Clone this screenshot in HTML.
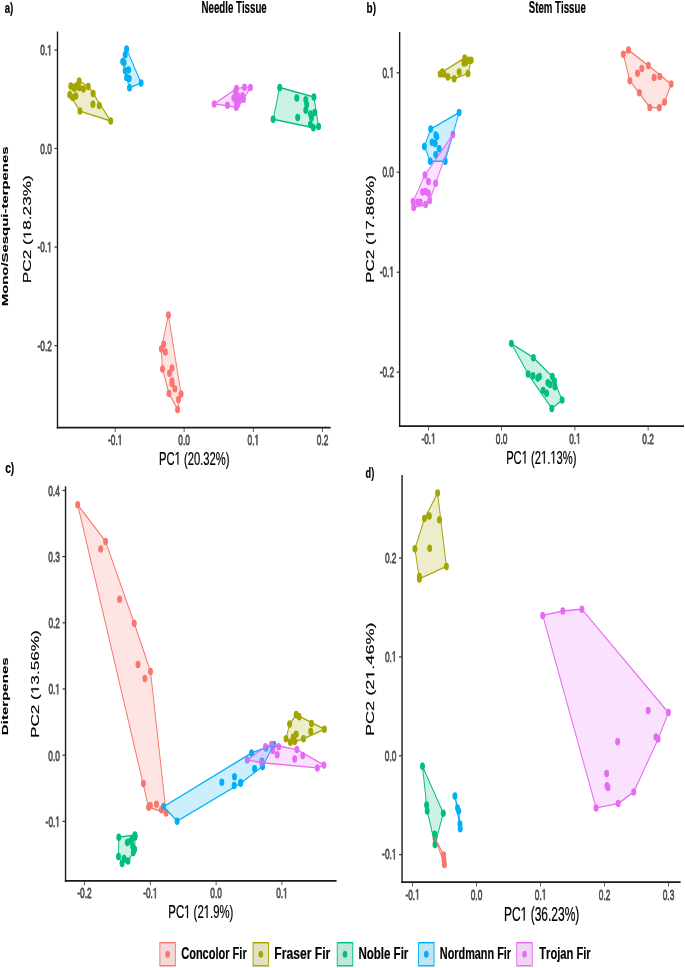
<!DOCTYPE html>
<html><head><meta charset="utf-8"><style>
html,body{margin:0;padding:0;background:#fff;}
svg{display:block;will-change:transform;}
text{font-family:"Liberation Sans",sans-serif;font-kerning:none;}

</style></head><body>
<svg width="685" height="968" viewBox="0 0 685 968">
<rect width="685" height="968" fill="#fff"/>
<g transform="scale(0.66,1)">
<circle cx="255.15" cy="315.1" r="3.75" fill="#F8766D"/>
<circle cx="248.03" cy="344.2" r="3.75" fill="#F8766D"/>
<circle cx="244.39" cy="348.9" r="3.75" fill="#F8766D"/>
<circle cx="250.61" cy="351.9" r="3.75" fill="#F8766D"/>
<circle cx="246.21" cy="369.1" r="3.75" fill="#F8766D"/>
<circle cx="260.61" cy="367.9" r="3.75" fill="#F8766D"/>
<circle cx="256.97" cy="373.3" r="3.75" fill="#F8766D"/>
<circle cx="260.61" cy="381" r="3.75" fill="#F8766D"/>
<circle cx="260.61" cy="383.4" r="3.75" fill="#F8766D"/>
<circle cx="265.0" cy="388.7" r="3.75" fill="#F8766D"/>
<circle cx="256.06" cy="393.5" r="3.75" fill="#F8766D"/>
<circle cx="274.39" cy="394.1" r="3.75" fill="#F8766D"/>
<circle cx="270.45" cy="399.4" r="3.75" fill="#F8766D"/>
<circle cx="269.09" cy="409.5" r="3.75" fill="#F8766D"/>
<circle cx="120.0" cy="81.1" r="3.75" fill="#A3A500"/>
<circle cx="107.27" cy="86.0" r="3.75" fill="#A3A500"/>
<circle cx="112.58" cy="88.3" r="3.75" fill="#A3A500"/>
<circle cx="120.0" cy="87.6" r="3.75" fill="#A3A500"/>
<circle cx="126.36" cy="89.1" r="3.75" fill="#A3A500"/>
<circle cx="133.79" cy="86.4" r="3.75" fill="#A3A500"/>
<circle cx="105.61" cy="94.8" r="3.75" fill="#A3A500"/>
<circle cx="110.15" cy="97.4" r="3.75" fill="#A3A500"/>
<circle cx="114.85" cy="95.9" r="3.75" fill="#A3A500"/>
<circle cx="141.21" cy="93.6" r="3.75" fill="#A3A500"/>
<circle cx="140.76" cy="104.3" r="3.75" fill="#A3A500"/>
<circle cx="150.45" cy="105.4" r="3.75" fill="#A3A500"/>
<circle cx="121.06" cy="111.1" r="3.75" fill="#A3A500"/>
<circle cx="167.73" cy="121.0" r="3.75" fill="#A3A500"/>
<circle cx="117.12" cy="86" r="3.75" fill="#A3A500"/>
<circle cx="423.79" cy="87.5" r="3.75" fill="#00BF7D"/>
<circle cx="475.61" cy="97" r="3.75" fill="#00BF7D"/>
<circle cx="413.79" cy="119.3" r="3.75" fill="#00BF7D"/>
<circle cx="482.73" cy="126.4" r="3.75" fill="#00BF7D"/>
<circle cx="449.7" cy="97.9" r="3.75" fill="#00BF7D"/>
<circle cx="463.33" cy="99.8" r="3.75" fill="#00BF7D"/>
<circle cx="464.7" cy="104.6" r="3.75" fill="#00BF7D"/>
<circle cx="463.33" cy="110.3" r="3.75" fill="#00BF7D"/>
<circle cx="451.06" cy="117.4" r="3.75" fill="#00BF7D"/>
<circle cx="470.45" cy="114.1" r="3.75" fill="#00BF7D"/>
<circle cx="476.97" cy="112.6" r="3.75" fill="#00BF7D"/>
<circle cx="471.97" cy="117.8" r="3.75" fill="#00BF7D"/>
<circle cx="470.45" cy="124.5" r="3.75" fill="#00BF7D"/>
<circle cx="474.85" cy="127.8" r="3.75" fill="#00BF7D"/>
<circle cx="191.82" cy="49.1" r="3.75" fill="#00B0F6"/>
<circle cx="189.7" cy="54.8" r="3.75" fill="#00B0F6"/>
<circle cx="185.91" cy="61.6" r="3.75" fill="#00B0F6"/>
<circle cx="188.03" cy="62.7" r="3.75" fill="#00B0F6"/>
<circle cx="189.7" cy="70.7" r="3.75" fill="#00B0F6"/>
<circle cx="194.85" cy="70.1" r="3.75" fill="#00B0F6"/>
<circle cx="191.82" cy="77.5" r="3.75" fill="#00B0F6"/>
<circle cx="195.76" cy="78.6" r="3.75" fill="#00B0F6"/>
<circle cx="196.21" cy="87.7" r="3.75" fill="#00B0F6"/>
<circle cx="213.79" cy="82.9" r="3.75" fill="#00B0F6"/>
<circle cx="324.55" cy="103.9" r="3.75" fill="#E76BF3"/>
<circle cx="344.7" cy="105.2" r="3.75" fill="#E76BF3"/>
<circle cx="358.03" cy="107.2" r="3.75" fill="#E76BF3"/>
<circle cx="358.33" cy="88.6" r="3.75" fill="#E76BF3"/>
<circle cx="370.45" cy="87.3" r="3.75" fill="#E76BF3"/>
<circle cx="379.39" cy="87.6" r="3.75" fill="#E76BF3"/>
<circle cx="354.24" cy="97.9" r="3.75" fill="#E76BF3"/>
<circle cx="360.15" cy="96.1" r="3.75" fill="#E76BF3"/>
<circle cx="367.42" cy="95.7" r="3.75" fill="#E76BF3"/>
<circle cx="368.79" cy="99.2" r="3.75" fill="#E76BF3"/>
<circle cx="362.88" cy="100.5" r="3.75" fill="#E76BF3"/>
<circle cx="357.58" cy="101.4" r="3.75" fill="#E76BF3"/>
<circle cx="356.82" cy="91.5" r="3.75" fill="#E76BF3"/>
<circle cx="360.61" cy="104" r="3.75" fill="#E76BF3"/>
<polygon points="244.39,348.9 255.15,315.1 274.39,394.1 269.09,409.5 256.06,393.5 246.21,369.1" fill="#F8766D" fill-opacity="0.2" stroke="#F8766D" stroke-width="1.45" stroke-linejoin="round"/>
<polygon points="105.61,94.8 107.27,86.0 120.0,81.1 133.79,86.4 141.21,93.6 167.73,121.0 121.06,111.1" fill="#A3A500" fill-opacity="0.2" stroke="#A3A500" stroke-width="1.45" stroke-linejoin="round"/>
<polygon points="413.79,119.3 423.79,87.5 475.61,97 482.73,126.4 474.85,127.8" fill="#00BF7D" fill-opacity="0.2" stroke="#00BF7D" stroke-width="1.45" stroke-linejoin="round"/>
<polygon points="185.91,61.6 191.82,49.1 213.79,82.9 196.21,87.7 191.82,77.5" fill="#00B0F6" fill-opacity="0.2" stroke="#00B0F6" stroke-width="1.45" stroke-linejoin="round"/>
<polygon points="324.55,103.9 358.33,88.6 370.45,87.3 379.39,87.6 368.79,99.2 358.03,107.2" fill="#E76BF3" fill-opacity="0.2" stroke="#E76BF3" stroke-width="1.45" stroke-linejoin="round"/>
<line x1="87.12" y1="31.6" x2="87.12" y2="428.475" stroke="#1a1a1a" stroke-width="2.121"/>
<line x1="86.05939393939394" y1="427.6" x2="501.06" y2="427.6" stroke="#1a1a1a" stroke-width="1.75"/>
<line x1="82.52000000000001" y1="50" x2="87.12" y2="50" stroke="#333" stroke-width="1.2"/>
<line x1="82.52000000000001" y1="148.4" x2="87.12" y2="148.4" stroke="#333" stroke-width="1.2"/>
<line x1="82.52000000000001" y1="247" x2="87.12" y2="247" stroke="#333" stroke-width="1.2"/>
<line x1="82.52000000000001" y1="345.6" x2="87.12" y2="345.6" stroke="#333" stroke-width="1.2"/>
<line x1="174.55" y1="427.6" x2="174.55" y2="432.0" stroke="#333" stroke-width="1.2"/>
<line x1="278.94" y1="427.6" x2="278.94" y2="432.0" stroke="#333" stroke-width="1.2"/>
<line x1="383.79" y1="427.6" x2="383.79" y2="432.0" stroke="#333" stroke-width="1.2"/>
<line x1="488.64" y1="427.6" x2="488.64" y2="432.0" stroke="#333" stroke-width="1.2"/>
<circle cx="944.39" cy="54.2" r="3.75" fill="#F8766D"/>
<circle cx="952.27" cy="50" r="3.75" fill="#F8766D"/>
<circle cx="982.42" cy="65.6" r="3.75" fill="#F8766D"/>
<circle cx="999.7" cy="76.5" r="3.75" fill="#F8766D"/>
<circle cx="1016.97" cy="84.1" r="3.75" fill="#F8766D"/>
<circle cx="1006.97" cy="102.1" r="3.75" fill="#F8766D"/>
<circle cx="998.94" cy="107.8" r="3.75" fill="#F8766D"/>
<circle cx="984.55" cy="107.4" r="3.75" fill="#F8766D"/>
<circle cx="968.79" cy="92.7" r="3.75" fill="#F8766D"/>
<circle cx="954.39" cy="80.8" r="3.75" fill="#F8766D"/>
<circle cx="965.91" cy="73.2" r="3.75" fill="#F8766D"/>
<circle cx="972.42" cy="68.5" r="3.75" fill="#F8766D"/>
<circle cx="991.06" cy="77.5" r="3.75" fill="#F8766D"/>
<circle cx="666.97" cy="74.1" r="3.75" fill="#A3A500"/>
<circle cx="670.3" cy="71.9" r="3.75" fill="#A3A500"/>
<circle cx="672.58" cy="74.1" r="3.75" fill="#A3A500"/>
<circle cx="678.64" cy="77" r="3.75" fill="#A3A500"/>
<circle cx="688.03" cy="78.8" r="3.75" fill="#A3A500"/>
<circle cx="695.76" cy="71.9" r="3.75" fill="#A3A500"/>
<circle cx="709.09" cy="73.4" r="3.75" fill="#A3A500"/>
<circle cx="704.09" cy="58" r="3.75" fill="#A3A500"/>
<circle cx="702.88" cy="63.1" r="3.75" fill="#A3A500"/>
<circle cx="710.15" cy="60.2" r="3.75" fill="#A3A500"/>
<circle cx="713.94" cy="60.2" r="3.75" fill="#A3A500"/>
<circle cx="705.76" cy="62.4" r="3.75" fill="#A3A500"/>
<circle cx="774.85" cy="343.6" r="3.75" fill="#00BF7D"/>
<circle cx="808.18" cy="357.7" r="3.75" fill="#00BF7D"/>
<circle cx="836.82" cy="376.6" r="3.75" fill="#00BF7D"/>
<circle cx="840.15" cy="381" r="3.75" fill="#00BF7D"/>
<circle cx="840.76" cy="386.7" r="3.75" fill="#00BF7D"/>
<circle cx="800.15" cy="373.9" r="3.75" fill="#00BF7D"/>
<circle cx="807.58" cy="375.7" r="3.75" fill="#00BF7D"/>
<circle cx="814.85" cy="377.9" r="3.75" fill="#00BF7D"/>
<circle cx="817.42" cy="376.6" r="3.75" fill="#00BF7D"/>
<circle cx="830.15" cy="382.7" r="3.75" fill="#00BF7D"/>
<circle cx="833.48" cy="384.5" r="3.75" fill="#00BF7D"/>
<circle cx="822.88" cy="390.6" r="3.75" fill="#00BF7D"/>
<circle cx="828.18" cy="393.3" r="3.75" fill="#00BF7D"/>
<circle cx="836.06" cy="408.6" r="3.75" fill="#00BF7D"/>
<circle cx="851.67" cy="400.1" r="3.75" fill="#00BF7D"/>
<circle cx="695.61" cy="112.5" r="3.75" fill="#00B0F6"/>
<circle cx="652.58" cy="129.1" r="3.75" fill="#00B0F6"/>
<circle cx="643.03" cy="146.4" r="3.75" fill="#00B0F6"/>
<circle cx="651.97" cy="161.2" r="3.75" fill="#00B0F6"/>
<circle cx="674.55" cy="161.2" r="3.75" fill="#00B0F6"/>
<circle cx="660.15" cy="135.1" r="3.75" fill="#00B0F6"/>
<circle cx="661.82" cy="136.8" r="3.75" fill="#00B0F6"/>
<circle cx="654.7" cy="142.2" r="3.75" fill="#00B0F6"/>
<circle cx="659.24" cy="143.4" r="3.75" fill="#00B0F6"/>
<circle cx="665.45" cy="148.7" r="3.75" fill="#00B0F6"/>
<circle cx="660.15" cy="154.7" r="3.75" fill="#00B0F6"/>
<circle cx="686.21" cy="134.5" r="3.75" fill="#E76BF3"/>
<circle cx="643.94" cy="174.9" r="3.75" fill="#E76BF3"/>
<circle cx="649.24" cy="181.4" r="3.75" fill="#E76BF3"/>
<circle cx="660.15" cy="183.2" r="3.75" fill="#E76BF3"/>
<circle cx="640.3" cy="192.1" r="3.75" fill="#E76BF3"/>
<circle cx="644.85" cy="191.5" r="3.75" fill="#E76BF3"/>
<circle cx="649.24" cy="193.3" r="3.75" fill="#E76BF3"/>
<circle cx="651.06" cy="200.4" r="3.75" fill="#E76BF3"/>
<circle cx="644.85" cy="204.6" r="3.75" fill="#E76BF3"/>
<circle cx="625.91" cy="201.6" r="3.75" fill="#E76BF3"/>
<circle cx="626.82" cy="207.6" r="3.75" fill="#E76BF3"/>
<circle cx="633.03" cy="202.2" r="3.75" fill="#E76BF3"/>
<circle cx="636.67" cy="202.2" r="3.75" fill="#E76BF3"/>
<polygon points="944.39,54.2 952.27,50 982.42,65.6 1016.97,84.1 1006.97,102.1 998.94,107.8 984.55,107.4 954.39,80.8" fill="#F8766D" fill-opacity="0.2" stroke="#F8766D" stroke-width="1.45" stroke-linejoin="round"/>
<polygon points="666.97,74.1 670.3,71.9 704.09,58 713.94,60.2 709.09,73.4 688.03,78.8 678.64,77" fill="#A3A500" fill-opacity="0.2" stroke="#A3A500" stroke-width="1.45" stroke-linejoin="round"/>
<polygon points="774.85,343.6 808.18,357.7 836.82,376.6 840.15,381 851.67,400.1 836.06,408.6 800.15,373.9" fill="#00BF7D" fill-opacity="0.2" stroke="#00BF7D" stroke-width="1.45" stroke-linejoin="round"/>
<polygon points="643.03,146.4 652.58,129.1 695.61,112.5 674.55,161.2 651.97,161.2" fill="#00B0F6" fill-opacity="0.2" stroke="#00B0F6" stroke-width="1.45" stroke-linejoin="round"/>
<polygon points="625.91,201.6 643.94,174.9 686.21,134.5 651.06,200.4 644.85,204.6 626.82,207.6" fill="#E76BF3" fill-opacity="0.2" stroke="#E76BF3" stroke-width="1.45" stroke-linejoin="round"/>
<line x1="605.53" y1="32.0" x2="605.53" y2="426.975" stroke="#1a1a1a" stroke-width="2.121"/>
<line x1="604.469393939394" y1="426.1" x2="1036.36" y2="426.1" stroke="#1a1a1a" stroke-width="1.75"/>
<line x1="600.93" y1="72.8" x2="605.53" y2="72.8" stroke="#333" stroke-width="1.2"/>
<line x1="600.93" y1="172.2" x2="605.53" y2="172.2" stroke="#333" stroke-width="1.2"/>
<line x1="600.93" y1="272.2" x2="605.53" y2="272.2" stroke="#333" stroke-width="1.2"/>
<line x1="600.93" y1="372.1" x2="605.53" y2="372.1" stroke="#333" stroke-width="1.2"/>
<line x1="649.39" y1="426.1" x2="649.39" y2="430.5" stroke="#333" stroke-width="1.2"/>
<line x1="760.0" y1="426.1" x2="760.0" y2="430.5" stroke="#333" stroke-width="1.2"/>
<line x1="871.06" y1="426.1" x2="871.06" y2="430.5" stroke="#333" stroke-width="1.2"/>
<line x1="981.97" y1="426.1" x2="981.97" y2="430.5" stroke="#333" stroke-width="1.2"/>
<circle cx="117.73" cy="504.7" r="3.75" fill="#F8766D"/>
<circle cx="160.0" cy="541.5" r="3.75" fill="#F8766D"/>
<circle cx="152.58" cy="548.9" r="3.75" fill="#F8766D"/>
<circle cx="181.21" cy="599.3" r="3.75" fill="#F8766D"/>
<circle cx="203.48" cy="623.3" r="3.75" fill="#F8766D"/>
<circle cx="209.09" cy="664.5" r="3.75" fill="#F8766D"/>
<circle cx="228.03" cy="671.4" r="3.75" fill="#F8766D"/>
<circle cx="219.55" cy="678.6" r="3.75" fill="#F8766D"/>
<circle cx="217.27" cy="783.4" r="3.75" fill="#F8766D"/>
<circle cx="225.15" cy="807.2" r="3.75" fill="#F8766D"/>
<circle cx="227.73" cy="805.5" r="3.75" fill="#F8766D"/>
<circle cx="237.12" cy="804.2" r="3.75" fill="#F8766D"/>
<circle cx="244.39" cy="809.8" r="3.75" fill="#F8766D"/>
<circle cx="251.67" cy="812.9" r="3.75" fill="#F8766D"/>
<circle cx="448.79" cy="714.6" r="3.75" fill="#A3A500"/>
<circle cx="453.18" cy="716.8" r="3.75" fill="#A3A500"/>
<circle cx="471.97" cy="723.4" r="3.75" fill="#A3A500"/>
<circle cx="491.52" cy="729.2" r="3.75" fill="#A3A500"/>
<circle cx="438.79" cy="724.1" r="3.75" fill="#A3A500"/>
<circle cx="470.91" cy="731.4" r="3.75" fill="#A3A500"/>
<circle cx="448.79" cy="734.3" r="3.75" fill="#A3A500"/>
<circle cx="444.39" cy="737.2" r="3.75" fill="#A3A500"/>
<circle cx="459.85" cy="738.7" r="3.75" fill="#A3A500"/>
<circle cx="433.33" cy="738.7" r="3.75" fill="#A3A500"/>
<circle cx="440.0" cy="742.3" r="3.75" fill="#A3A500"/>
<circle cx="446.52" cy="741.6" r="3.75" fill="#A3A500"/>
<circle cx="180.0" cy="837.2" r="3.75" fill="#00BF7D"/>
<circle cx="204.39" cy="834.9" r="3.75" fill="#00BF7D"/>
<circle cx="204.85" cy="836.8" r="3.75" fill="#00BF7D"/>
<circle cx="200.45" cy="838.8" r="3.75" fill="#00BF7D"/>
<circle cx="197.73" cy="841" r="3.75" fill="#00BF7D"/>
<circle cx="192.88" cy="842.4" r="3.75" fill="#00BF7D"/>
<circle cx="200.91" cy="846" r="3.75" fill="#00BF7D"/>
<circle cx="203.94" cy="849.3" r="3.75" fill="#00BF7D"/>
<circle cx="201.97" cy="852.6" r="3.75" fill="#00BF7D"/>
<circle cx="179.55" cy="856.5" r="3.75" fill="#00BF7D"/>
<circle cx="188.03" cy="858.5" r="3.75" fill="#00BF7D"/>
<circle cx="185.0" cy="863.4" r="3.75" fill="#00BF7D"/>
<circle cx="193.94" cy="861.1" r="3.75" fill="#00BF7D"/>
<circle cx="247.88" cy="806.6" r="3.75" fill="#00B0F6"/>
<circle cx="268.33" cy="821.2" r="3.75" fill="#00B0F6"/>
<circle cx="336.06" cy="782.3" r="3.75" fill="#00B0F6"/>
<circle cx="355.3" cy="776.7" r="3.75" fill="#00B0F6"/>
<circle cx="354.85" cy="785.5" r="3.75" fill="#00B0F6"/>
<circle cx="364.55" cy="783.3" r="3.75" fill="#00B0F6"/>
<circle cx="385.76" cy="768.7" r="3.75" fill="#00B0F6"/>
<circle cx="381.21" cy="753.0" r="3.75" fill="#00B0F6"/>
<circle cx="403.03" cy="748.0" r="3.75" fill="#00B0F6"/>
<circle cx="415.0" cy="744.6" r="3.75" fill="#00B0F6"/>
<circle cx="396.82" cy="761.3" r="3.75" fill="#00B0F6"/>
<circle cx="397.88" cy="766.4" r="3.75" fill="#00B0F6"/>
<circle cx="364.7" cy="782.5" r="3.75" fill="#00B0F6"/>
<circle cx="374.7" cy="759.9" r="3.75" fill="#E76BF3"/>
<circle cx="402.27" cy="746.7" r="3.75" fill="#E76BF3"/>
<circle cx="411.21" cy="744.5" r="3.75" fill="#E76BF3"/>
<circle cx="422.27" cy="746.7" r="3.75" fill="#E76BF3"/>
<circle cx="449.85" cy="749.6" r="3.75" fill="#E76BF3"/>
<circle cx="458.79" cy="755.5" r="3.75" fill="#E76BF3"/>
<circle cx="490.76" cy="765" r="3.75" fill="#E76BF3"/>
<circle cx="480.91" cy="767.9" r="3.75" fill="#E76BF3"/>
<circle cx="446.52" cy="759.1" r="3.75" fill="#E76BF3"/>
<circle cx="420.0" cy="754.7" r="3.75" fill="#E76BF3"/>
<circle cx="413.33" cy="750.4" r="3.75" fill="#E76BF3"/>
<circle cx="396.82" cy="762.8" r="3.75" fill="#E76BF3"/>
<polygon points="117.73,504.7 160.0,541.5 203.48,623.3 228.03,671.4 251.67,812.9 225.15,807.2" fill="#F8766D" fill-opacity="0.2" stroke="#F8766D" stroke-width="1.45" stroke-linejoin="round"/>
<polygon points="433.33,738.7 438.79,724.1 448.79,714.6 491.52,729.2 459.85,738.7 446.52,741.6 440.0,742.3" fill="#A3A500" fill-opacity="0.2" stroke="#A3A500" stroke-width="1.45" stroke-linejoin="round"/>
<polygon points="179.55,856.5 180.0,837.2 204.39,834.9 204.85,836.8 203.94,849.3 201.97,852.6 193.94,861.1 185.0,863.4" fill="#00BF7D" fill-opacity="0.2" stroke="#00BF7D" stroke-width="1.45" stroke-linejoin="round"/>
<polygon points="247.88,806.6 381.21,753.0 415.0,744.6 397.88,766.4 364.55,783.3 268.33,821.2" fill="#00B0F6" fill-opacity="0.2" stroke="#00B0F6" stroke-width="1.45" stroke-linejoin="round"/>
<polygon points="374.7,759.9 402.27,746.7 411.21,744.5 449.85,749.6 490.76,765 480.91,767.9 396.82,762.8" fill="#E76BF3" fill-opacity="0.2" stroke="#E76BF3" stroke-width="1.45" stroke-linejoin="round"/>
<line x1="99.32" y1="486.2" x2="99.32" y2="881.675" stroke="#1a1a1a" stroke-width="2.121"/>
<line x1="98.25939393939393" y1="880.8" x2="510.0" y2="880.8" stroke="#1a1a1a" stroke-width="1.75"/>
<line x1="94.72" y1="490.5" x2="99.32" y2="490.5" stroke="#333" stroke-width="1.2"/>
<line x1="94.72" y1="556.6" x2="99.32" y2="556.6" stroke="#333" stroke-width="1.2"/>
<line x1="94.72" y1="622.8" x2="99.32" y2="622.8" stroke="#333" stroke-width="1.2"/>
<line x1="94.72" y1="689" x2="99.32" y2="689" stroke="#333" stroke-width="1.2"/>
<line x1="94.72" y1="755.2" x2="99.32" y2="755.2" stroke="#333" stroke-width="1.2"/>
<line x1="94.72" y1="821.4" x2="99.32" y2="821.4" stroke="#333" stroke-width="1.2"/>
<line x1="127.88" y1="880.8" x2="127.88" y2="885.1999999999999" stroke="#333" stroke-width="1.2"/>
<line x1="227.73" y1="880.8" x2="227.73" y2="885.1999999999999" stroke="#333" stroke-width="1.2"/>
<line x1="327.42" y1="880.8" x2="327.42" y2="885.1999999999999" stroke="#333" stroke-width="1.2"/>
<line x1="427.12" y1="880.8" x2="427.12" y2="885.1999999999999" stroke="#333" stroke-width="1.2"/>
<circle cx="659.09" cy="838" r="3.75" fill="#F8766D"/>
<circle cx="672.12" cy="855" r="3.75" fill="#F8766D"/>
<circle cx="672.73" cy="860" r="3.75" fill="#F8766D"/>
<circle cx="673.33" cy="864.5" r="3.75" fill="#F8766D"/>
<circle cx="663.03" cy="493.1" r="3.75" fill="#A3A500"/>
<circle cx="643.18" cy="518.6" r="3.75" fill="#A3A500"/>
<circle cx="650.45" cy="516.1" r="3.75" fill="#A3A500"/>
<circle cx="665.91" cy="519.8" r="3.75" fill="#A3A500"/>
<circle cx="628.64" cy="548.8" r="3.75" fill="#A3A500"/>
<circle cx="651.06" cy="548.2" r="3.75" fill="#A3A500"/>
<circle cx="676.36" cy="566.4" r="3.75" fill="#A3A500"/>
<circle cx="635.45" cy="576.6" r="3.75" fill="#A3A500"/>
<circle cx="635.45" cy="578.9" r="3.75" fill="#A3A500"/>
<circle cx="640.15" cy="766.3" r="3.75" fill="#00BF7D"/>
<circle cx="646.36" cy="804.9" r="3.75" fill="#00BF7D"/>
<circle cx="647.27" cy="810.9" r="3.75" fill="#00BF7D"/>
<circle cx="671.67" cy="813.2" r="3.75" fill="#00BF7D"/>
<circle cx="658.79" cy="834.3" r="3.75" fill="#00BF7D"/>
<circle cx="659.09" cy="844.5" r="3.75" fill="#00BF7D"/>
<circle cx="689.24" cy="796" r="3.75" fill="#00B0F6"/>
<circle cx="695.0" cy="810.9" r="3.75" fill="#00B0F6"/>
<circle cx="693.18" cy="808" r="3.75" fill="#00B0F6"/>
<circle cx="696.82" cy="823.9" r="3.75" fill="#00B0F6"/>
<circle cx="697.27" cy="828.7" r="3.75" fill="#00B0F6"/>
<circle cx="822.27" cy="615.4" r="3.75" fill="#E76BF3"/>
<circle cx="852.73" cy="611" r="3.75" fill="#E76BF3"/>
<circle cx="881.67" cy="609.2" r="3.75" fill="#E76BF3"/>
<circle cx="1012.73" cy="712.6" r="3.75" fill="#E76BF3"/>
<circle cx="982.12" cy="710.6" r="3.75" fill="#E76BF3"/>
<circle cx="993.79" cy="736.9" r="3.75" fill="#E76BF3"/>
<circle cx="997.12" cy="739.1" r="3.75" fill="#E76BF3"/>
<circle cx="935.76" cy="741.7" r="3.75" fill="#E76BF3"/>
<circle cx="919.09" cy="773.5" r="3.75" fill="#E76BF3"/>
<circle cx="919.7" cy="785.7" r="3.75" fill="#E76BF3"/>
<circle cx="921.21" cy="787.4" r="3.75" fill="#E76BF3"/>
<circle cx="960.15" cy="792" r="3.75" fill="#E76BF3"/>
<circle cx="936.67" cy="803.6" r="3.75" fill="#E76BF3"/>
<circle cx="903.18" cy="807.9" r="3.75" fill="#E76BF3"/>
<polygon points="659.09,838 672.12,855 673.33,864.5" fill="#F8766D" fill-opacity="0.2" stroke="#F8766D" stroke-width="1.45" stroke-linejoin="round"/>
<polygon points="628.64,548.8 643.18,518.6 663.03,493.1 676.36,566.4 635.45,578.9" fill="#A3A500" fill-opacity="0.2" stroke="#A3A500" stroke-width="1.45" stroke-linejoin="round"/>
<polygon points="640.15,766.3 671.67,813.2 659.09,844.5 647.27,810.9" fill="#00BF7D" fill-opacity="0.2" stroke="#00BF7D" stroke-width="1.45" stroke-linejoin="round"/>
<polygon points="689.24,796 695.0,810.9 696.82,823.9 697.27,828.7" fill="#00B0F6" fill-opacity="0.2" stroke="#00B0F6" stroke-width="1.45" stroke-linejoin="round"/>
<polygon points="822.27,615.4 852.73,611 881.67,609.2 1012.73,712.6 997.12,739.1 960.15,792 936.67,803.6 903.18,807.9" fill="#E76BF3" fill-opacity="0.2" stroke="#E76BF3" stroke-width="1.45" stroke-linejoin="round"/>
<line x1="609.17" y1="474.9" x2="609.17" y2="882.875" stroke="#1a1a1a" stroke-width="2.121"/>
<line x1="608.109393939394" y1="882.0" x2="1031.21" y2="882.0" stroke="#1a1a1a" stroke-width="1.75"/>
<line x1="604.5699999999999" y1="558" x2="609.17" y2="558" stroke="#333" stroke-width="1.2"/>
<line x1="604.5699999999999" y1="656.9" x2="609.17" y2="656.9" stroke="#333" stroke-width="1.2"/>
<line x1="604.5699999999999" y1="755.8" x2="609.17" y2="755.8" stroke="#333" stroke-width="1.2"/>
<line x1="604.5699999999999" y1="854.7" x2="609.17" y2="854.7" stroke="#333" stroke-width="1.2"/>
<line x1="625.15" y1="882.0" x2="625.15" y2="886.4" stroke="#333" stroke-width="1.2"/>
<line x1="721.97" y1="882.0" x2="721.97" y2="886.4" stroke="#333" stroke-width="1.2"/>
<line x1="819.09" y1="882.0" x2="819.09" y2="886.4" stroke="#333" stroke-width="1.2"/>
<line x1="916.06" y1="882.0" x2="916.06" y2="886.4" stroke="#333" stroke-width="1.2"/>
<line x1="1012.88" y1="882.0" x2="1012.88" y2="886.4" stroke="#333" stroke-width="1.2"/>
<rect x="241.52" y="942.0" width="24.85" height="24.5" fill="#F2F2F2"/>
<rect x="242.22" y="942.7" width="23.45" height="23.1" fill="#F8766D" fill-opacity="0.2" stroke="#F8766D" stroke-width="1.4"/>
<circle cx="253.94" cy="954.3" r="3.5" fill="#F8766D"/>
<rect x="382.73" y="942.0" width="24.85" height="24.5" fill="#F2F2F2"/>
<rect x="383.43" y="942.7" width="23.45" height="23.1" fill="#A3A500" fill-opacity="0.2" stroke="#A3A500" stroke-width="1.4"/>
<circle cx="395.15" cy="954.3" r="3.5" fill="#A3A500"/>
<rect x="510.3" y="942.0" width="24.85" height="24.5" fill="#F2F2F2"/>
<rect x="511.0" y="942.7" width="23.45" height="23.1" fill="#00BF7D" fill-opacity="0.2" stroke="#00BF7D" stroke-width="1.4"/>
<circle cx="522.73" cy="954.3" r="3.5" fill="#00BF7D"/>
<rect x="633.48" y="942.0" width="24.85" height="24.5" fill="#F2F2F2"/>
<rect x="634.18" y="942.7" width="23.45" height="23.1" fill="#00B0F6" fill-opacity="0.2" stroke="#00B0F6" stroke-width="1.4"/>
<circle cx="645.91" cy="954.3" r="3.5" fill="#00B0F6"/>
<rect x="782.27" y="942.0" width="24.85" height="24.5" fill="#F2F2F2"/>
<rect x="782.97" y="942.7" width="23.45" height="23.1" fill="#E76BF3" fill-opacity="0.2" stroke="#E76BF3" stroke-width="1.4"/>
<circle cx="794.7" cy="954.3" r="3.5" fill="#E76BF3"/>
</g>
<g transform="translate(40.33,55.3) scale(0.555,1)" fill="#4D4D4D" stroke="#4D4D4D" stroke-width="0.8" stroke-linejoin="round"><text font-size="15.0" class="tk">0. </text><path transform="translate(12.51,0) scale(0.00732,-0.00732)" stroke-width="109.23" d="M515 0V1237L197 1010V1180L530 1409H696V0Z"/></g>
<g transform="translate(40.25,153.7) scale(0.555,1)" fill="#4D4D4D" stroke="#4D4D4D" stroke-width="0.8" stroke-linejoin="round"><text font-size="15.0" class="tk">0.0</text></g>
<g transform="translate(37.56,252.3) scale(0.555,1)" fill="#4D4D4D" stroke="#4D4D4D" stroke-width="0.8" stroke-linejoin="round"><text font-size="15.0" class="tk">-0. </text><path transform="translate(17.505,0) scale(0.00732,-0.00732)" stroke-width="109.23" d="M515 0V1237L197 1010V1180L530 1409H696V0Z"/></g>
<g transform="translate(37.57,350.9) scale(0.555,1)" fill="#4D4D4D" stroke="#4D4D4D" stroke-width="0.8" stroke-linejoin="round"><text font-size="15.0" class="tk">-0.2</text></g>
<g transform="translate(108.05,445.1) scale(0.555,1)" fill="#4D4D4D" stroke="#4D4D4D" stroke-width="0.8" stroke-linejoin="round"><text font-size="15.0" class="tk">-0. </text><path transform="translate(17.505,0) scale(0.00732,-0.00732)" stroke-width="109.23" d="M515 0V1237L197 1010V1180L530 1409H696V0Z"/></g>
<g transform="translate(178.31,445.1) scale(0.555,1)" fill="#4D4D4D" stroke="#4D4D4D" stroke-width="0.8" stroke-linejoin="round"><text font-size="15.0" class="tk">0.0</text></g>
<g transform="translate(247.55,445.1) scale(0.555,1)" fill="#4D4D4D" stroke="#4D4D4D" stroke-width="0.8" stroke-linejoin="round"><text font-size="15.0" class="tk">0. </text><path transform="translate(12.51,0) scale(0.00732,-0.00732)" stroke-width="109.23" d="M515 0V1237L197 1010V1180L530 1409H696V0Z"/></g>
<g transform="translate(316.76,445.1) scale(0.555,1)" fill="#4D4D4D" stroke="#4D4D4D" stroke-width="0.8" stroke-linejoin="round"><text font-size="15.0" class="tk">0.2</text></g>
<g transform="translate(382.48,77.5) scale(0.555,1)" fill="#4D4D4D" stroke="#4D4D4D" stroke-width="0.8" stroke-linejoin="round"><text font-size="15.0" class="tk">0. </text><path transform="translate(12.51,0) scale(0.00732,-0.00732)" stroke-width="109.23" d="M515 0V1237L197 1010V1180L530 1409H696V0Z"/></g>
<g transform="translate(382.4,176.9) scale(0.555,1)" fill="#4D4D4D" stroke="#4D4D4D" stroke-width="0.8" stroke-linejoin="round"><text font-size="15.0" class="tk">0.0</text></g>
<g transform="translate(379.71,276.9) scale(0.555,1)" fill="#4D4D4D" stroke="#4D4D4D" stroke-width="0.8" stroke-linejoin="round"><text font-size="15.0" class="tk">-0. </text><path transform="translate(17.505,0) scale(0.00732,-0.00732)" stroke-width="109.23" d="M515 0V1237L197 1010V1180L530 1409H696V0Z"/></g>
<g transform="translate(379.72,376.8) scale(0.555,1)" fill="#4D4D4D" stroke="#4D4D4D" stroke-width="0.8" stroke-linejoin="round"><text font-size="15.0" class="tk">-0.2</text></g>
<g transform="translate(421.45,443.6) scale(0.555,1)" fill="#4D4D4D" stroke="#4D4D4D" stroke-width="0.8" stroke-linejoin="round"><text font-size="15.0" class="tk">-0. </text><path transform="translate(17.505,0) scale(0.00732,-0.00732)" stroke-width="109.23" d="M515 0V1237L197 1010V1180L530 1409H696V0Z"/></g>
<g transform="translate(495.81,443.6) scale(0.555,1)" fill="#4D4D4D" stroke="#4D4D4D" stroke-width="0.8" stroke-linejoin="round"><text font-size="15.0" class="tk">0.0</text></g>
<g transform="translate(569.15,443.6) scale(0.555,1)" fill="#4D4D4D" stroke="#4D4D4D" stroke-width="0.8" stroke-linejoin="round"><text font-size="15.0" class="tk">0. </text><path transform="translate(12.51,0) scale(0.00732,-0.00732)" stroke-width="109.23" d="M515 0V1237L197 1010V1180L530 1409H696V0Z"/></g>
<g transform="translate(642.36,443.6) scale(0.555,1)" fill="#4D4D4D" stroke="#4D4D4D" stroke-width="0.8" stroke-linejoin="round"><text font-size="15.0" class="tk">0.2</text></g>
<g transform="translate(48.22,495.8) scale(0.555,1)" fill="#4D4D4D" stroke="#4D4D4D" stroke-width="0.8" stroke-linejoin="round"><text font-size="15.0" class="tk">0.4</text></g>
<g transform="translate(48.34,561.9) scale(0.555,1)" fill="#4D4D4D" stroke="#4D4D4D" stroke-width="0.8" stroke-linejoin="round"><text font-size="15.0" class="tk">0.3</text></g>
<g transform="translate(48.4,628.1) scale(0.555,1)" fill="#4D4D4D" stroke="#4D4D4D" stroke-width="0.8" stroke-linejoin="round"><text font-size="15.0" class="tk">0.2</text></g>
<g transform="translate(48.38,694.3) scale(0.555,1)" fill="#4D4D4D" stroke="#4D4D4D" stroke-width="0.8" stroke-linejoin="round"><text font-size="15.0" class="tk">0. </text><path transform="translate(12.51,0) scale(0.00732,-0.00732)" stroke-width="109.23" d="M515 0V1237L197 1010V1180L530 1409H696V0Z"/></g>
<g transform="translate(48.3,760.5) scale(0.555,1)" fill="#4D4D4D" stroke="#4D4D4D" stroke-width="0.8" stroke-linejoin="round"><text font-size="15.0" class="tk">0.0</text></g>
<g transform="translate(45.61,826.7) scale(0.555,1)" fill="#4D4D4D" stroke="#4D4D4D" stroke-width="0.8" stroke-linejoin="round"><text font-size="15.0" class="tk">-0. </text><path transform="translate(17.505,0) scale(0.00732,-0.00732)" stroke-width="109.23" d="M515 0V1237L197 1010V1180L530 1409H696V0Z"/></g>
<g transform="translate(77.25,898.3) scale(0.555,1)" fill="#4D4D4D" stroke="#4D4D4D" stroke-width="0.8" stroke-linejoin="round"><text font-size="15.0" class="tk">-0.2</text></g>
<g transform="translate(143.15,898.3) scale(0.555,1)" fill="#4D4D4D" stroke="#4D4D4D" stroke-width="0.8" stroke-linejoin="round"><text font-size="15.0" class="tk">-0. </text><path transform="translate(17.505,0) scale(0.00732,-0.00732)" stroke-width="109.23" d="M515 0V1237L197 1010V1180L530 1409H696V0Z"/></g>
<g transform="translate(210.31,898.3) scale(0.555,1)" fill="#4D4D4D" stroke="#4D4D4D" stroke-width="0.8" stroke-linejoin="round"><text font-size="15.0" class="tk">0.0</text></g>
<g transform="translate(276.15,898.3) scale(0.555,1)" fill="#4D4D4D" stroke="#4D4D4D" stroke-width="0.8" stroke-linejoin="round"><text font-size="15.0" class="tk">0. </text><path transform="translate(12.51,0) scale(0.00732,-0.00732)" stroke-width="109.23" d="M515 0V1237L197 1010V1180L530 1409H696V0Z"/></g>
<g transform="translate(384.9,562.7) scale(0.555,1)" fill="#4D4D4D" stroke="#4D4D4D" stroke-width="0.8" stroke-linejoin="round"><text font-size="15.0" class="tk">0.2</text></g>
<g transform="translate(384.88,661.6) scale(0.555,1)" fill="#4D4D4D" stroke="#4D4D4D" stroke-width="0.8" stroke-linejoin="round"><text font-size="15.0" class="tk">0. </text><path transform="translate(12.51,0) scale(0.00732,-0.00732)" stroke-width="109.23" d="M515 0V1237L197 1010V1180L530 1409H696V0Z"/></g>
<g transform="translate(384.8,760.5) scale(0.555,1)" fill="#4D4D4D" stroke="#4D4D4D" stroke-width="0.8" stroke-linejoin="round"><text font-size="15.0" class="tk">0.0</text></g>
<g transform="translate(382.11,859.4) scale(0.555,1)" fill="#4D4D4D" stroke="#4D4D4D" stroke-width="0.8" stroke-linejoin="round"><text font-size="15.0" class="tk">-0. </text><path transform="translate(17.505,0) scale(0.00732,-0.00732)" stroke-width="109.23" d="M515 0V1237L197 1010V1180L530 1409H696V0Z"/></g>
<g transform="translate(405.45,899.5) scale(0.555,1)" fill="#4D4D4D" stroke="#4D4D4D" stroke-width="0.8" stroke-linejoin="round"><text font-size="15.0" class="tk">-0. </text><path transform="translate(17.505,0) scale(0.00732,-0.00732)" stroke-width="109.23" d="M515 0V1237L197 1010V1180L530 1409H696V0Z"/></g>
<g transform="translate(470.71,899.5) scale(0.555,1)" fill="#4D4D4D" stroke="#4D4D4D" stroke-width="0.8" stroke-linejoin="round"><text font-size="15.0" class="tk">0.0</text></g>
<g transform="translate(534.85,899.5) scale(0.555,1)" fill="#4D4D4D" stroke="#4D4D4D" stroke-width="0.8" stroke-linejoin="round"><text font-size="15.0" class="tk">0. </text><path transform="translate(12.51,0) scale(0.00732,-0.00732)" stroke-width="109.23" d="M515 0V1237L197 1010V1180L530 1409H696V0Z"/></g>
<g transform="translate(598.86,899.5) scale(0.555,1)" fill="#4D4D4D" stroke="#4D4D4D" stroke-width="0.8" stroke-linejoin="round"><text font-size="15.0" class="tk">0.2</text></g>
<g transform="translate(662.73,899.5) scale(0.555,1)" fill="#4D4D4D" stroke="#4D4D4D" stroke-width="0.8" stroke-linejoin="round"><text font-size="15.0" class="tk">0.3</text></g>
<g transform="translate(159.03,464.6) scale(0.606,1)" fill="#000" stroke="#000" stroke-width="0.25" stroke-linejoin="round"><text font-size="18.5">PC  (20.32%)</text><path transform="translate(25.699,0) scale(0.00903,-0.00903)" stroke-width="27.68" d="M515 0V1237L197 1010V1180L530 1409H696V0Z"/></g>
<g transform="translate(506.13,463.6) scale(0.606,1)" fill="#000" stroke="#000" stroke-width="0.25" stroke-linejoin="round"><text font-size="18.5">PC  (2 . 3%)</text><path transform="translate(25.699,0) scale(0.00903,-0.00903)" stroke-width="27.68" d="M515 0V1237L197 1010V1180L530 1409H696V0Z"/><path transform="translate(57.578,0) scale(0.00903,-0.00903)" stroke-width="27.68" d="M515 0V1237L197 1010V1180L530 1409H696V0Z"/><path transform="translate(73.006,0) scale(0.00903,-0.00903)" stroke-width="27.68" d="M515 0V1237L197 1010V1180L530 1409H696V0Z"/></g>
<g transform="translate(168.32,918.0) scale(0.6151,1)" fill="#000" stroke="#000" stroke-width="0.25" stroke-linejoin="round"><text font-size="18.5">PC  (2 .9%)</text><path transform="translate(25.699,0) scale(0.00903,-0.00903)" stroke-width="27.68" d="M515 0V1237L197 1010V1180L530 1409H696V0Z"/><path transform="translate(57.578,0) scale(0.00903,-0.00903)" stroke-width="27.68" d="M515 0V1237L197 1010V1180L530 1409H696V0Z"/></g>
<g transform="translate(503.96,920.6) scale(0.6159,1)" fill="#000" stroke="#000" stroke-width="0.25" stroke-linejoin="round"><text font-size="19.5">PC  (36.23%)</text><path transform="translate(27.089,0) scale(0.00952,-0.00952)" stroke-width="26.26" d="M515 0V1237L197 1010V1180L530 1409H696V0Z"/></g>
<g transform="translate(31.2,283.16) scale(0.65,1) rotate(-90)" fill="#000" stroke="#000" stroke-width="0.25" stroke-linejoin="round"><text font-size="17.192">PC2 ( 8.23%)</text><path transform="translate(43.944,0) scale(0.00839,-0.00839)" stroke-width="29.78" d="M515 0V1237L197 1010V1180L530 1409H696V0Z"/></g>
<g transform="translate(373.9,283.06) scale(0.65,1) rotate(-90)" fill="#000" stroke="#000" stroke-width="0.25" stroke-linejoin="round"><text font-size="17.175">PC2 ( 7.86%)</text><path transform="translate(43.903,0) scale(0.00839,-0.00839)" stroke-width="29.81" d="M515 0V1237L197 1010V1180L530 1409H696V0Z"/></g>
<g transform="translate(38.9,738.06) scale(0.65,1) rotate(-90)" fill="#000" stroke="#000" stroke-width="0.25" stroke-linejoin="round"><text font-size="17.175">PC2 ( 3.56%)</text><path transform="translate(43.903,0) scale(0.00839,-0.00839)" stroke-width="29.81" d="M515 0V1237L197 1010V1180L530 1409H696V0Z"/></g>
<g transform="translate(374.3,736.03) scale(0.65,1) rotate(-90)" fill="#000" stroke="#000" stroke-width="0.25" stroke-linejoin="round"><text font-size="18.088">PC2 (2 .46%)</text><path transform="translate(56.295,0) scale(0.00883,-0.00883)" stroke-width="28.31" d="M515 0V1237L197 1010V1180L530 1409H696V0Z"/></g>
<g transform="translate(7.8,306.25) scale(0.66,1) rotate(-90)" fill="#000" stroke="#000" stroke-width="0.2" stroke-linejoin="round"><text font-size="14.912" font-weight="bold">Mono/Sesqui-terpenes</text></g>
<g transform="translate(7.8,735.16) scale(0.66,1) rotate(-90)" fill="#000" stroke="#000" stroke-width="0.2" stroke-linejoin="round"><text font-size="15.058" font-weight="bold">Diterpenes</text></g>
<g transform="translate(201.5,12.5) scale(0.6067,1)" fill="#000" stroke="#000" stroke-width="0.2" stroke-linejoin="round"><text font-size="16" font-weight="bold">Needle Tissue</text></g>
<g transform="translate(528.77,12.5) scale(0.6048,1)" fill="#000" stroke="#000" stroke-width="0.2" stroke-linejoin="round"><text font-size="16" font-weight="bold">Stem Tissue</text></g>
<g transform="translate(4.77,12.7) scale(0.6335,1)" fill="#000" stroke="#000" stroke-width="0.2" stroke-linejoin="round"><text font-size="15.2" font-weight="bold">a)</text></g>
<g transform="translate(366.59,12.7) scale(0.6594,1)" fill="#000" stroke="#000" stroke-width="0.2" stroke-linejoin="round"><text font-size="15.2" font-weight="bold">b)</text></g>
<g transform="translate(5.15,472.7) scale(0.6741,1)" fill="#000" stroke="#000" stroke-width="0.2" stroke-linejoin="round"><text font-size="15.2" font-weight="bold">c)</text></g>
<g transform="translate(365.57,477.5) scale(0.6016,1)" fill="#000" stroke="#000" stroke-width="0.2" stroke-linejoin="round"><text font-size="15.2" font-weight="bold">d)</text></g>
<g transform="translate(181.2,958.9) scale(0.6408,1)" fill="#000" stroke="#000" stroke-width="0.2" stroke-linejoin="round"><text font-size="17.2" font-weight="bold">Concolor Fir</text></g>
<g transform="translate(274.34,958.9) scale(0.7057,1)" fill="#000" stroke="#000" stroke-width="0.2" stroke-linejoin="round"><text font-size="17.2" font-weight="bold">Fraser Fir</text></g>
<g transform="translate(358.38,958.9) scale(0.6715,1)" fill="#000" stroke="#000" stroke-width="0.2" stroke-linejoin="round"><text font-size="17.2" font-weight="bold">Noble Fir</text></g>
<g transform="translate(439.82,958.9) scale(0.6323,1)" fill="#000" stroke="#000" stroke-width="0.2" stroke-linejoin="round"><text font-size="17.2" font-weight="bold">Nordmann Fir</text></g>
<g transform="translate(539.32,958.9) scale(0.648,1)" fill="#000" stroke="#000" stroke-width="0.2" stroke-linejoin="round"><text font-size="17.2" font-weight="bold">Trojan Fir</text></g>
</svg>
</body></html>
